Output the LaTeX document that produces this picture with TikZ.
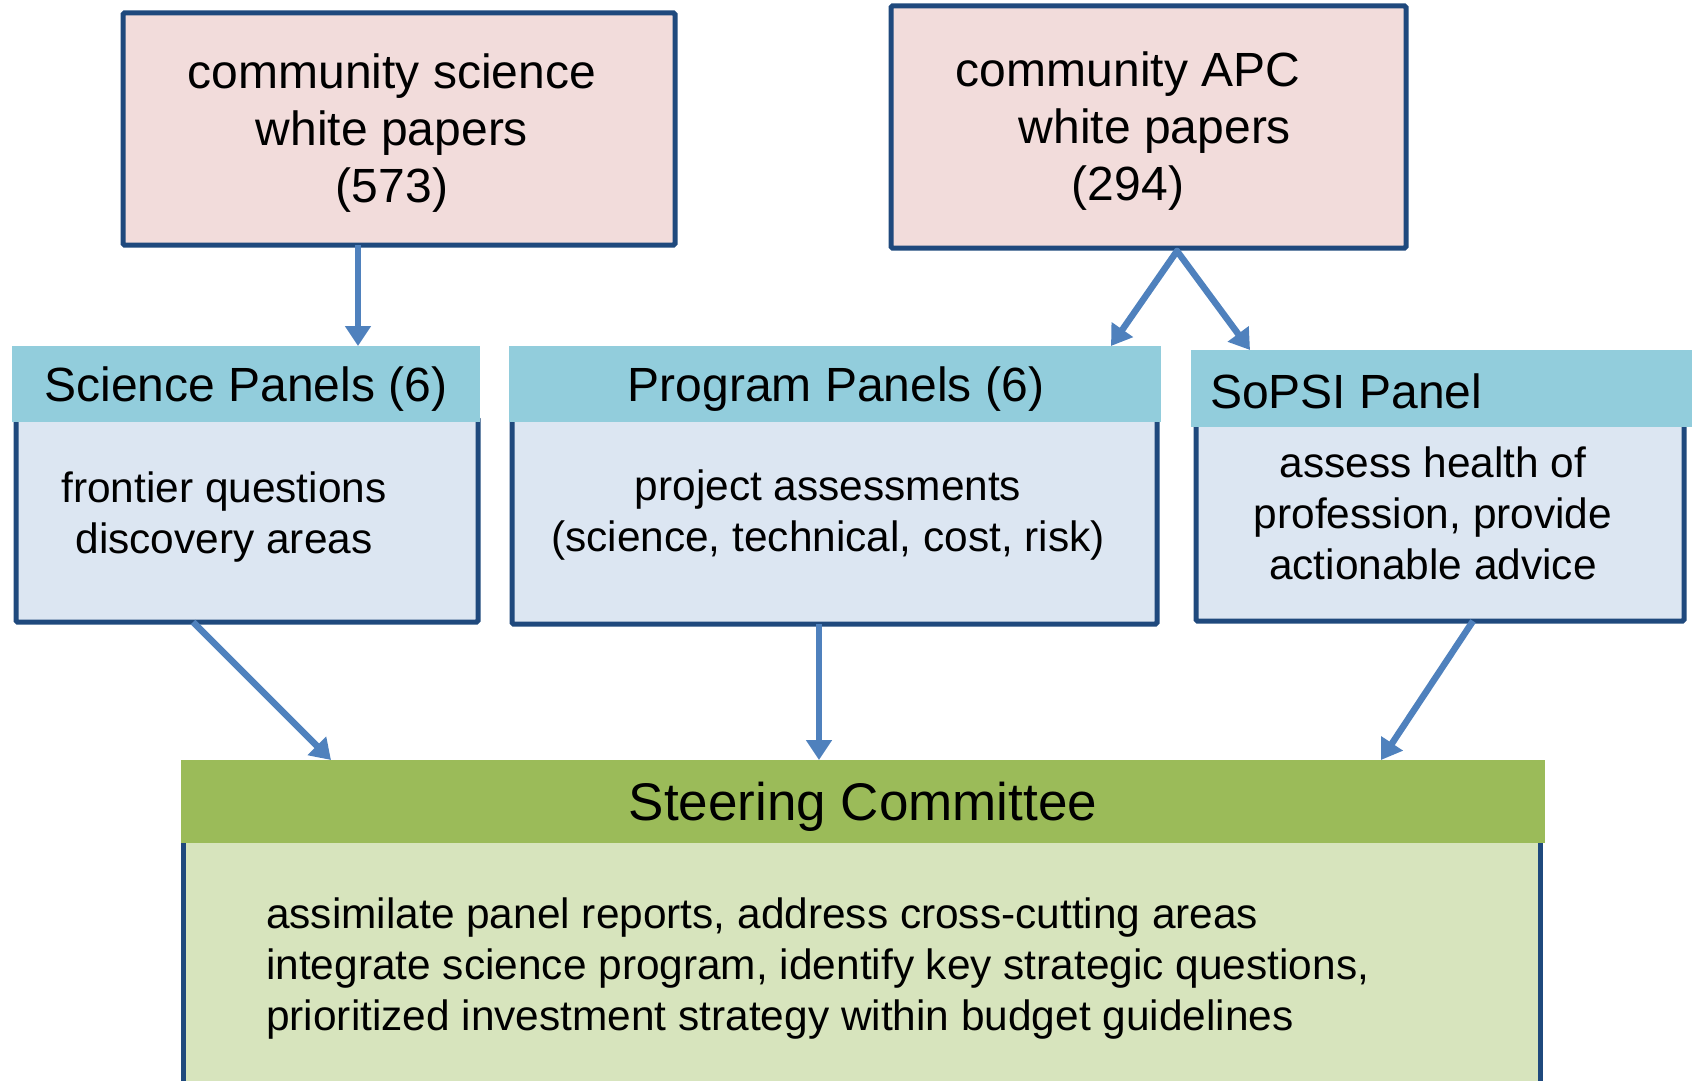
\documentclass[tikz,border=0pt]{standalone}
\usepackage{fontspec}
\setmainfont{Liberation Sans}
\usetikzlibrary{arrows.meta,calc}
\definecolor{pinkf}{HTML}{F2DCDB}
\definecolor{hblue}{HTML}{92CDDC}
\definecolor{bblue}{HTML}{DCE6F2}
\definecolor{hgreen}{HTML}{9BBB59}
\definecolor{bgreen}{HTML}{D7E4BD}
\definecolor{edge}{HTML}{1F497D}
\definecolor{arr}{HTML}{4F81BD}
\tikzset{
  boxbase/.style={anchor=north west, inner sep=0pt, outer sep=0pt},
  srcbox/.style={boxbase, draw=edge, line width=5pt, fill=pinkf, rounded corners=1.5pt},
  bodybox/.style={boxbase, draw=edge, line width=5pt, fill=bblue, rounded corners=1.5pt},
  headbox/.style={boxbase, fill=hblue},
  bigtxt/.style={font=\fontsize{48}{57}\selectfont, align=center, inner sep=0pt},
  midtxt/.style={font=\fontsize{42.4}{51}\selectfont, align=center, inner sep=0pt},
  flow/.style={draw=arr, line width=6.5pt, -{Triangle[length=20pt,width=25pt]}},
}
\begin{document}
\begin{tikzpicture}[x=1pt,y=-1pt]
\useasboundingbox (0,0) rectangle (1694,1081);
% source boxes
\node[srcbox, minimum width=552pt, minimum height=232pt] (b1) at (123,13) {};
\node[srcbox, minimum width=515pt, minimum height=242pt] (b2) at (891,6) {};
\node[bigtxt] (t1) at (392,133) {community science\\white papers\\(573)};
\node[bigtxt] (t2) at (1128,131) {community APC\\\hspace*{54pt}white papers\\(294)};
% science panels
\node[bodybox, minimum width=462pt, minimum height=204pt] (sb) at (16,418) {};
\node[headbox, minimum width=468pt, minimum height=76pt] (sh) at (12,346) {};
\node[bigtxt] (sht) at (246,389) {Science Panels (6)};
\node[midtxt] (sbt) at (224,517) {frontier questions\\discovery areas};
% program panels
\node[bodybox, minimum width=645pt, minimum height=206pt] (pb) at (512,418) {};
\node[headbox, minimum width=652pt, minimum height=76pt] (ph) at (509,346) {};
\node[bigtxt] (pht) at (836,389) {Program Panels (6)};
\node[midtxt] (pbt) at (828,515) {project assessments\\(science, technical, cost, risk)};
% SoPSI panel
\node[bodybox, minimum width=488pt, minimum height=198pt] (ob) at (1196,423) {};
\node[headbox, minimum width=501pt, minimum height=77pt] (oh) at (1191,350) {};
\node[bigtxt, anchor=west] (oht) at (1210,391) {SoPSI Panel};
\node[midtxt] (obt) at (1433,513) {assess health of\\profession, provide\\actionable advice};
% steering committee
\fill[bgreen] (181,800) rectangle (1543,1081);
\node[boxbase, minimum width=1362pt, minimum height=281pt] (stb) at (181,800) {};
\draw[edge, line width=5pt] (stb.north west) ++(2.5,0) -- ++(0,281);
\draw[edge, line width=5pt] (stb.north east) ++(-2.5,43) -- ++(0,238);
\draw[gray!60, line width=1pt] (stb.south west) -- (stb.south east);
\node[boxbase, fill=hgreen, minimum width=1364pt, minimum height=83pt] (sth) at (181,760) {};
\node[font=\fontsize{53}{60}\selectfont, inner sep=0pt] (stht) at (863,807) {Steering Committee};
\node[midtxt, align=left, anchor=west] (stbt) at (266,969) {assimilate panel reports, address cross-cutting areas\\integrate science program, identify key strategic questions,\\prioritized investment strategy within budget guidelines};
% connectors
\draw[flow] ([xshift=235pt]b1.south west) -- ([xshift=346pt]sh.north west);
\draw[flow, line cap=round] ([xshift=286pt,yshift=-3pt]b2.south west) -- ([xshift=602pt]ph.north west);
\draw[flow, line cap=round] ([xshift=286pt,yshift=-3pt]b2.south west) -- ([xshift=59pt]oh.north west);
\draw[flow] ([xshift=177pt]sb.south west) -- ([xshift=150pt]sth.north west);
\draw[flow] ([xshift=307pt]pb.south west) -- ([xshift=638pt]sth.north west);
\draw[flow] ([xshift=277pt]ob.south west) -- ([xshift=1200pt]sth.north west);
\end{tikzpicture}
\end{document}
